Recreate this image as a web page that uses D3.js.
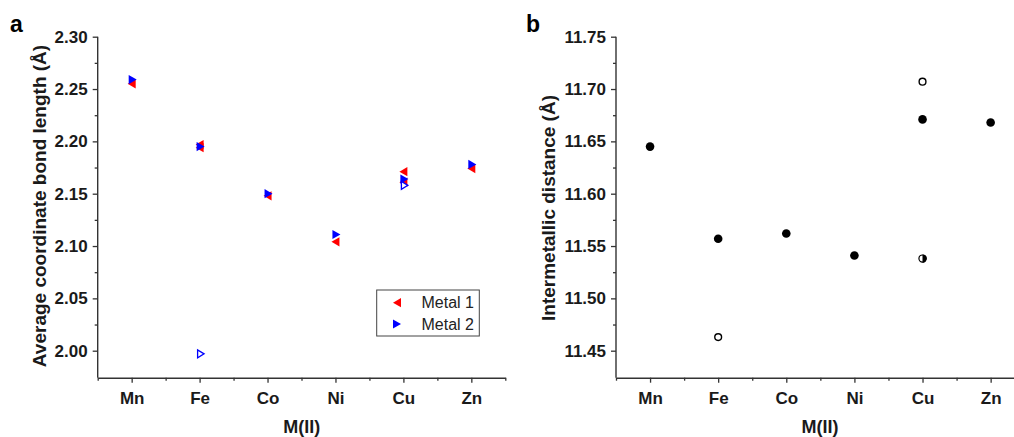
<!DOCTYPE html>
<html><head><meta charset="utf-8">
<script src="https://cdn.jsdelivr.net/npm/d3@7"></script>
<style>
html,body{margin:0;padding:0;background:#fff;}
svg{display:block;font-family:"Liberation Sans",Arial,sans-serif;}
</style></head>
<body>
<svg id="chart" width="1014" height="437"></svg>
<script>
const categories = ["Mn","Fe","Co","Ni","Cu","Zn"];
// Panel a: average coordinate bond length (Å)
const metal1 = [["Mn",2.255],["Fe",2.197],["Fe",2.194],["Co",2.148],["Ni",2.104],["Cu",2.171],["Cu",2.161],["Zn",2.174]];
const metal2 = [["Mn",2.259],["Fe",2.195],["Co",2.150],["Ni",2.111],["Cu",2.164],["Zn",2.178]];
const metal2Open = [["Fe",1.997],["Cu",2.158]];
const yTicksA = [2.00,2.05,2.10,2.15,2.20,2.25,2.30];
// Panel b: intermetallic distance (Å)
const distFilled = [["Mn",11.645],["Fe",11.557],["Co",11.562],["Ni",11.541],["Cu",11.671],["Zn",11.668]];
const distOpen = [["Fe",11.463],["Cu",11.707]];
const distHalf = [["Cu",11.538]];
const yTicksB = [11.45,11.50,11.55,11.60,11.65,11.70,11.75];

const svg = d3.select("#chart");
const axisColor = "#333";
const textColor = "#1a1a1a";

function panel(opt){
  const g = svg.append("g");
  const x = d3.scaleLinear().domain([0.5,6.5]).range([opt.x0, opt.x1]);
  const y = d3.scaleLinear().domain(opt.yDomain).range([377.7, 36.7]);
  const xc = c => x(categories.indexOf(c)+1);

  // x axis
  const xAxis = d3.axisBottom(x)
    .tickValues(d3.range(1,7)).tickSize(5).tickSizeOuter(0)
    .tickFormat(i => categories[i-1]).tickPadding(9);
  const gx = g.append("g").attr("transform","translate(0,377.7)").call(xAxis);
  gx.select(".domain").attr("stroke",axisColor).attr("stroke-width",1.4);
  gx.selectAll(".tick line").attr("stroke",axisColor).attr("stroke-width",1.3);
  gx.selectAll(".tick text").attr("fill",textColor).attr("font-size",17).attr("font-weight","bold").attr("font-family","Liberation Sans, Arial, sans-serif");
  const xMinor = d3.axisBottom(x).tickValues(d3.range(0.5,7,1)).tickSize(3).tickFormat("");
  const gxm = g.append("g").attr("transform","translate(0,377.7)").call(xMinor);
  gxm.select(".domain").remove();
  gxm.selectAll(".tick line").attr("stroke",axisColor).attr("stroke-width",1.3);

  // y axis
  const yAxis = d3.axisLeft(y).tickValues(opt.yTicks).tickSize(5).tickSizeOuter(0)
    .tickFormat(d3.format(".2f")).tickPadding(5);
  const gy = g.append("g").attr("transform",`translate(${opt.x0},0)`).call(yAxis);
  gy.select(".domain").attr("stroke",axisColor).attr("stroke-width",1.4)
    .attr("d",`M0,${y(opt.yDomain[0])}V${y(opt.yDomain[1])}`);
  gy.selectAll(".tick line").attr("stroke",axisColor).attr("stroke-width",1.3);
  gy.selectAll(".tick text").attr("fill",textColor).attr("font-size",17).attr("font-weight","bold").attr("font-family","Liberation Sans, Arial, sans-serif");
  const minorVals = opt.yTicks.slice(0,-1).map(v => v+0.025);
  const gym = g.append("g").attr("transform",`translate(${opt.x0},0)`)
    .call(d3.axisLeft(y).tickValues(minorVals).tickSize(3).tickFormat(""));
  gym.select(".domain").remove();
  gym.selectAll(".tick line").attr("stroke",axisColor).attr("stroke-width",1.3);

  // titles
  g.append("text").attr("x",(opt.x0+opt.xMid)).attr("y",433)
    .attr("text-anchor","middle").attr("font-size",18).attr("font-weight","bold")
    .attr("fill",textColor).text("M(II)");
  g.append("text").attr("transform",`translate(${opt.ytX},${opt.ytY}) rotate(-90)`)
    .attr("text-anchor","middle").attr("font-size",opt.ytSize).attr("font-weight","bold")
    .attr("fill",textColor).text(opt.yTitle);
  g.append("text").attr("x",opt.letterX).attr("y",32).attr("font-size",23)
    .attr("font-weight","bold").attr("fill","#000").text(opt.letter);
  return {g,x,y,xc};
}

const triLeft = "M-4,0L4,-4.6L4,4.6Z";
const triRight = "M4,0L-4,-4.6L-4,4.6Z";

// Panel a
const A = panel({x0:97.7, x1:505.3, xMid:204, yDomain:[1.9742,2.30], yTicks:yTicksA,
  yTitle:"Average coordinate bond length (Å)", ytX:46, ytY:206, ytSize:19, letter:"a", letterX:10});
A.g.selectAll(".m1").data(metal1).join("path").attr("class","m1")
  .attr("d",triLeft).attr("fill","#ff0000")
  .attr("transform",d=>`translate(${A.xc(d[0])},${A.y(d[1])})`);
A.g.selectAll(".m2").data(metal2).join("path").attr("class","m2")
  .attr("d",triRight).attr("fill","#0000ff")
  .attr("transform",d=>`translate(${A.xc(d[0])+1},${A.y(d[1])})`);
A.g.selectAll(".m2o").data(metal2Open).join("path").attr("class","m2o")
  .attr("d","M3.5,0L-3,-4L-3,4Z").attr("fill","#fff").attr("stroke","#0000ff").attr("stroke-width",1.3)
  .attr("transform",d=>`translate(${A.xc(d[0])+1},${A.y(d[1])})`);

// legend
const leg = A.g.append("g");
leg.append("rect").attr("x",376.7).attr("y",290).attr("width",102.6).attr("height",46)
  .attr("fill","#fff").attr("stroke","#444").attr("stroke-width",1);
const legItems = [["Metal 1",triLeft,"#ff0000"],["Metal 2",triRight,"#0000ff"]];
legItems.forEach((it,i)=>{
  const cy = 302.7 + i*21.3;
  leg.append("path").attr("d",it[1]).attr("fill",it[2]).attr("transform",`translate(397,${cy})`);
  leg.append("text").attr("x",421.5).attr("y",cy+5.5).attr("font-size",16)
    .attr("fill","#222").text(it[0]);
});

// Panel b
const B = panel({x0:616, x1:1024.7, xMid:204, yDomain:[11.4242,11.75], yTicks:yTicksB,
  yTitle:"Intermetallic distance (Å)", ytX:555, ytY:208, ytSize:19, letter:"b", letterX:526});
B.g.selectAll(".df").data(distFilled).join("circle").attr("class","df")
  .attr("cx",d=>B.xc(d[0])).attr("cy",d=>B.y(d[1])).attr("r",4.3).attr("fill","#000");
B.g.selectAll(".do").data(distOpen).join("circle").attr("class","do")
  .attr("cx",d=>B.xc(d[0])).attr("cy",d=>B.y(d[1])).attr("r",3.4)
  .attr("fill","#fff").attr("stroke","#000").attr("stroke-width",1.4);
const halves = B.g.selectAll(".dh").data(distHalf).join("g").attr("class","dh")
  .attr("transform",d=>`translate(${B.xc(d[0])},${B.y(d[1])})`);
halves.append("circle").attr("r",3.6).attr("fill","#fff").attr("stroke","#000").attr("stroke-width",1.2);
halves.append("path").attr("d","M0,-4.2A4.2,4.2 0 0 1 0,4.2Z").attr("fill","#000");
</script>
</body></html>
